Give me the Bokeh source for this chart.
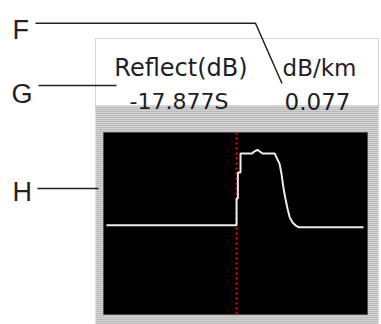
from bokeh.plotting import figure
from bokeh.models import Range1d
from bokeh.core.properties import value
from bokeh.embed import file_html
from bokeh.resources import INLINE

# ---------------- data ----------------
# trace: position (% of window) vs reflected level (dB)
trace_pos = [1.1, 50.4, 50.4, 50.9, 50.9, 51.9, 51.9, 56.4, 56.8, 58.3, 59.5, 60.2,
             64.8, 65.8, 66.7, 67.4, 68.2, 68.9, 69.7, 70.5, 71.6, 72.7, 73.9, 98.5]
trace_db = [-20.4, -20.4, -14.5, -14.5, -8.8, -8.8, -4.6, -4.6, -4.3, -3.8, -4.3, -4.6,
            -4.6, -5.8, -6.9, -9.0, -12.3, -14.5, -16.7, -18.6, -19.8, -20.4, -20.8, -20.8]
cursor_pos = 50.4
win_x = (0, 100)
win_db = (-40, 0)

header_labels = ["Reflect(dB)", "dB/km"]
header_values = ["-17.877S", "0.077"]
callouts = ["F", "G", "H"]

# ---------------- layout (page pixels) ----------------
W, H = 381, 324
PX0, PY0 = 0, 0
BL, BR, BT, BB = 103, 367, 132, 314  # black window box

p = figure(width=W, height=H, output_backend="svg", toolbar_location=None,
           x_range=Range1d(PX0, PX0 + W), y_range=Range1d(PY0 + H, PY0),
           min_border=0, outline_line_color=None, background_fill_color="white",
           border_fill_color="white")
p.axis.visible = False
p.grid.visible = False

# extra ranges mapping trace units onto the black window
sx = (BR - BL) / (win_x[1] - win_x[0])
sy = (BB - BT) / (win_db[1] - win_db[0])
p.extra_x_ranges = {"tx": Range1d(win_x[0] - (BL - PX0) / sx, win_x[1] + (PX0 + W - BR) / sx)}
p.extra_y_ranges = {"ty": Range1d(win_db[0] - (PY0 + H - BB) / sy, win_db[1] + (BT - PY0) / sy)}

# header box
p.quad(left=95, right=378, top=38, bottom=108, fill_color="white", line_color="#d6d6d6", line_width=1)
# striped frame
p.quad(left=95, right=378, top=105, bottom=330, fill_color="#d4d4d4", line_color=None,
       hatch_pattern="horizontal_line", hatch_color="#a0a0a0", hatch_weight=1, hatch_scale=2)
# black window
p.quad(left=BL, right=BR, top=BT, bottom=BB, fill_color="black", line_color="#505050", line_width=1)

# cursor
p.segment(x0=[cursor_pos], y0=[win_db[0]], x1=[cursor_pos], y1=[win_db[1]],
          x_range_name="tx", y_range_name="ty", line_color="#ff0000", line_width=2, line_dash="2 3")
# trace
p.line(trace_pos, trace_db, x_range_name="tx", y_range_name="ty", line_color="#ececec", line_width=2)

# header texts
font = value("DejaVu Sans")
p.text(x=[180.5], y=[67.5], text=[header_labels[0]], text_font=font, text_font_size="24px",
       text_align="center", text_baseline="alphabetic", text_color="#1e1e2a")
p.text(x=[319], y=[67], text=[header_labels[1]], text_font=font, text_font_size="23px",
       text_align="center", text_baseline="alphabetic", text_color="#1e1e2a")
p.text(x=[178.5], y=[100.5], text=[header_values[0]], text_font=font, text_font_size="22px",
       text_align="center", text_baseline="alphabetic", text_color="#1e1e2a")
p.text(x=[317], y=[100.5], text=[header_values[1]], text_font=font, text_font_size="23px",
       text_align="center", text_baseline="alphabetic", text_color="#1e1e2a")

# callouts
lfont = value("Liberation Sans")
p.text(x=[12, 11, 12], y=[29.5, 93, 191], text=callouts, text_font=lfont, text_font_size="27px",
       text_align="left", text_baseline="alphabetic", text_color="#222222")
p.line([35, 255, 281.5], [22.7, 22.7, 83], line_color="#222222", line_width=1.5)
p.line([38, 116], [85, 85], line_color="#222222", line_width=1.5)
p.line([37, 98], [188, 188], line_color="#222222", line_width=1.5)

open("out.html", "w").write(file_html(p, INLINE))
